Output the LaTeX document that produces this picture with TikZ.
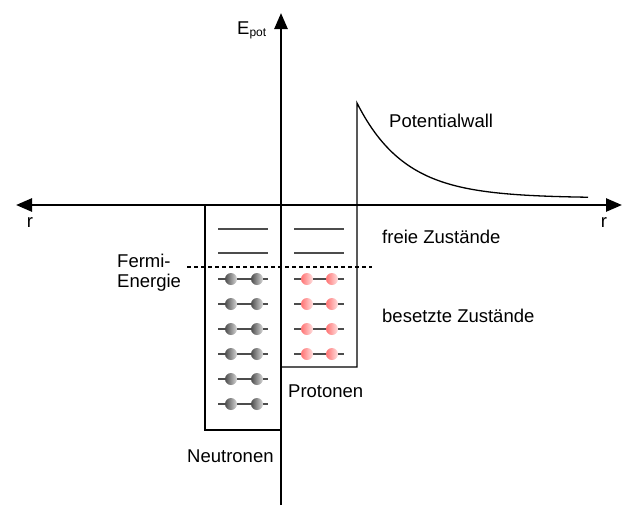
\documentclass[tikz,border=0pt]{standalone}
\usepackage{fontspec}
\setmainfont{Liberation Sans}
\usetikzlibrary{arrows.meta}
\tikzset{
  axis/.style={line width=2.6pt},
  tip/.style={-{Triangle[length=16pt,width=13pt]}},
  box/.style={line width=1.3pt},
  level/.style={line width=1.5pt,black!70},
  neutron/.style={left color=black!70,right color=black!15},
  proton/.style={left color=red!55,right color=red!12},
  lbl/.style={font=\fontsize{18.5}{20}\selectfont,inner sep=0pt}
}
\begin{document}
\begin{tikzpicture}[x=1pt,y=-1pt]
  \useasboundingbox (0,0) rectangle (640,523);
  % axes
  \coordinate (xl) at (16,205);
  \coordinate (xr) at (622,205);
  \coordinate (yb) at (281,505);
  \coordinate (yt) at (281,13);
  \draw[axis,tip] (yb) -- (yt);
  \draw[axis,{Triangle[length=16pt,width=13pt]}-{Triangle[length=16pt,width=13pt]}] (xl) -- (xr);
  \node[lbl,anchor=base west] (epot) at (237,34) {E{\fontsize{12}{12}\selectfont\raisebox{-2.5pt}{pot}}};
  \node[lbl,anchor=base] (rleft) at (30,227) {r};
  \node[lbl,anchor=base] (rright) at (604,227) {r};

  % potential wells and wall
  \draw[box] (205,205) -- (205,430) -- (281,430);
  \draw[box] (281,367) -- (357,367) -- (357,103)
    -- plot[domain=357:588,samples=80,smooth] (\x,{198-95*exp(-(\x-357)/48)});

  % free states
  \foreach \y in {229,253} {
    \draw[level] (218,\y) -- (268,\y);
    \draw[level] (294,\y) -- (344,\y);
  }
  % Fermi energy
  \draw[box,dash pattern=on 4pt off 3pt] (187,267) -- (372,267);

  % occupied states
  \foreach \y in {279,304,...,404} {
    \draw[level] (218,\y) -- (268,\y);
    \foreach \x in {231,257}
      \path[neutron] (\x,\y) circle (6pt);
  }
  \foreach \y in {279,304,...,354} {
    \draw[level] (294,\y) -- (344,\y);
    \foreach \x in {307,332}
      \path[proton] (\x,\y) circle (6pt);
  }

  % labels
  \node[lbl,anchor=base west] (wall) at (389,127) {Potentialwall};
  \node[lbl,anchor=base west] (free) at (382,243) {freie Zustände};
  \node[lbl,anchor=base west] (occ) at (382,322) {besetzte Zustände};
  \node[lbl,anchor=base west,align=left] (fermi) at (117,287) {Fermi-\\Energie};
  \node[lbl,anchor=base west] (prot) at (288,397) {Protonen};
  \node[lbl,anchor=base west] (neut) at (187,462) {Neutronen};
\end{tikzpicture}
\end{document}
